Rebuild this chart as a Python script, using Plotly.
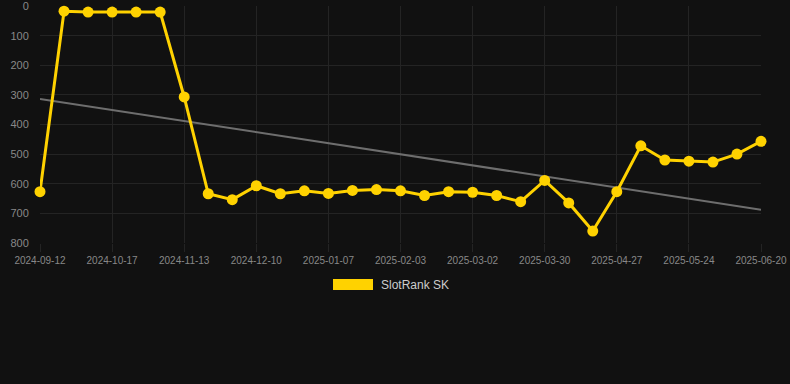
import numpy as np
import plotly.graph_objects as go

dates = ["2024-09-12", "2024-09-24", "2024-10-05", "2024-10-17", "2024-10-26", "2024-11-04",
         "2024-11-13", "2024-11-22", "2024-12-01", "2024-12-10", "2024-12-19", "2024-12-28",
         "2025-01-07", "2025-01-16", "2025-01-25", "2025-02-03", "2025-02-12", "2025-02-21",
         "2025-03-02", "2025-03-11", "2025-03-21", "2025-03-30", "2025-04-08", "2025-04-18",
         "2025-04-27", "2025-05-06", "2025-05-15", "2025-05-24", "2025-06-02", "2025-06-11",
         "2025-06-20"]
rank = [627, 17, 20, 20, 20, 20, 307, 634, 654, 607, 634, 624, 633, 623, 620, 624, 640, 627,
        629, 640, 661, 589, 665, 760, 627, 472, 520, 524, 527, 500, 457]
y_ticks = [0, 100, 200, 300, 400, 500, 600, 700, 800]
x_tick_labels = dates[::3]
series_name = "SlotRank SK"

idx = np.arange(len(rank))
slope, intercept = np.polyfit(idx, rank, 1)
trend = slope * idx + intercept

BG = "#111111"
GRID = "#242424"
GOLD = "#FFD200"

fig = go.Figure()
fig.add_trace(go.Scatter(x=dates, y=trend, mode="lines",
                         line=dict(color="#6e6e6e", width=2), showlegend=False,
                         hoverinfo="skip"))
fig.add_trace(go.Scatter(x=dates, y=rank, mode="lines+markers", name=series_name,
                         line=dict(color=GOLD, width=3),
                         marker=dict(color=GOLD, size=11),
                         cliponaxis=False, showlegend=False))

fig.update_layout(
    width=790, height=384,
    paper_bgcolor=BG, plot_bgcolor=BG,
    margin=dict(l=40, r=29, t=6, b=141, autoexpand=False),
    font=dict(family="Liberation Sans, Arial, sans-serif", color="#888888"),
    xaxis=dict(type="category", range=[0, len(dates) - 1], automargin=False,
               tickmode="array", tickvals=x_tick_labels, ticktext=x_tick_labels,
               tickangle=0,
               showgrid=True, gridcolor=GRID, gridwidth=1, zeroline=False,
               showline=False, ticks="outside", ticklen=8, tickcolor=GRID,
               tickfont=dict(size=10, color="#888888")),
    yaxis=dict(range=[800.5, -0.5], tickmode="array", tickvals=y_ticks, automargin=False,
               showgrid=True, gridcolor=GRID, gridwidth=1, zeroline=False,
               showline=False, ticks="outside", ticklen=8, tickcolor=BG,
               tickfont=dict(size=11, color="#888888")),
    showlegend=False,
)

# legend (box + label) below the plot
fig.add_shape(type="rect", xref="paper", yref="paper",
              x0=(333 - 40) / 721, x1=(373 - 40) / 721,
              y0=(243 - 290) / 237, y1=(243 - 279) / 237,
              fillcolor=GOLD, line=dict(width=0))
fig.add_annotation(xref="paper", yref="paper", x=(379 - 40) / 721, y=(243 - 284.5) / 237,
                   xanchor="left", yanchor="middle", text=series_name, showarrow=False,
                   font=dict(size=12, color="#cccccc"))

fig.write_html("out.html", config={"displayModeBar": False},
               post_script="document.body.style.margin='0';document.body.style.background='#111111';")
